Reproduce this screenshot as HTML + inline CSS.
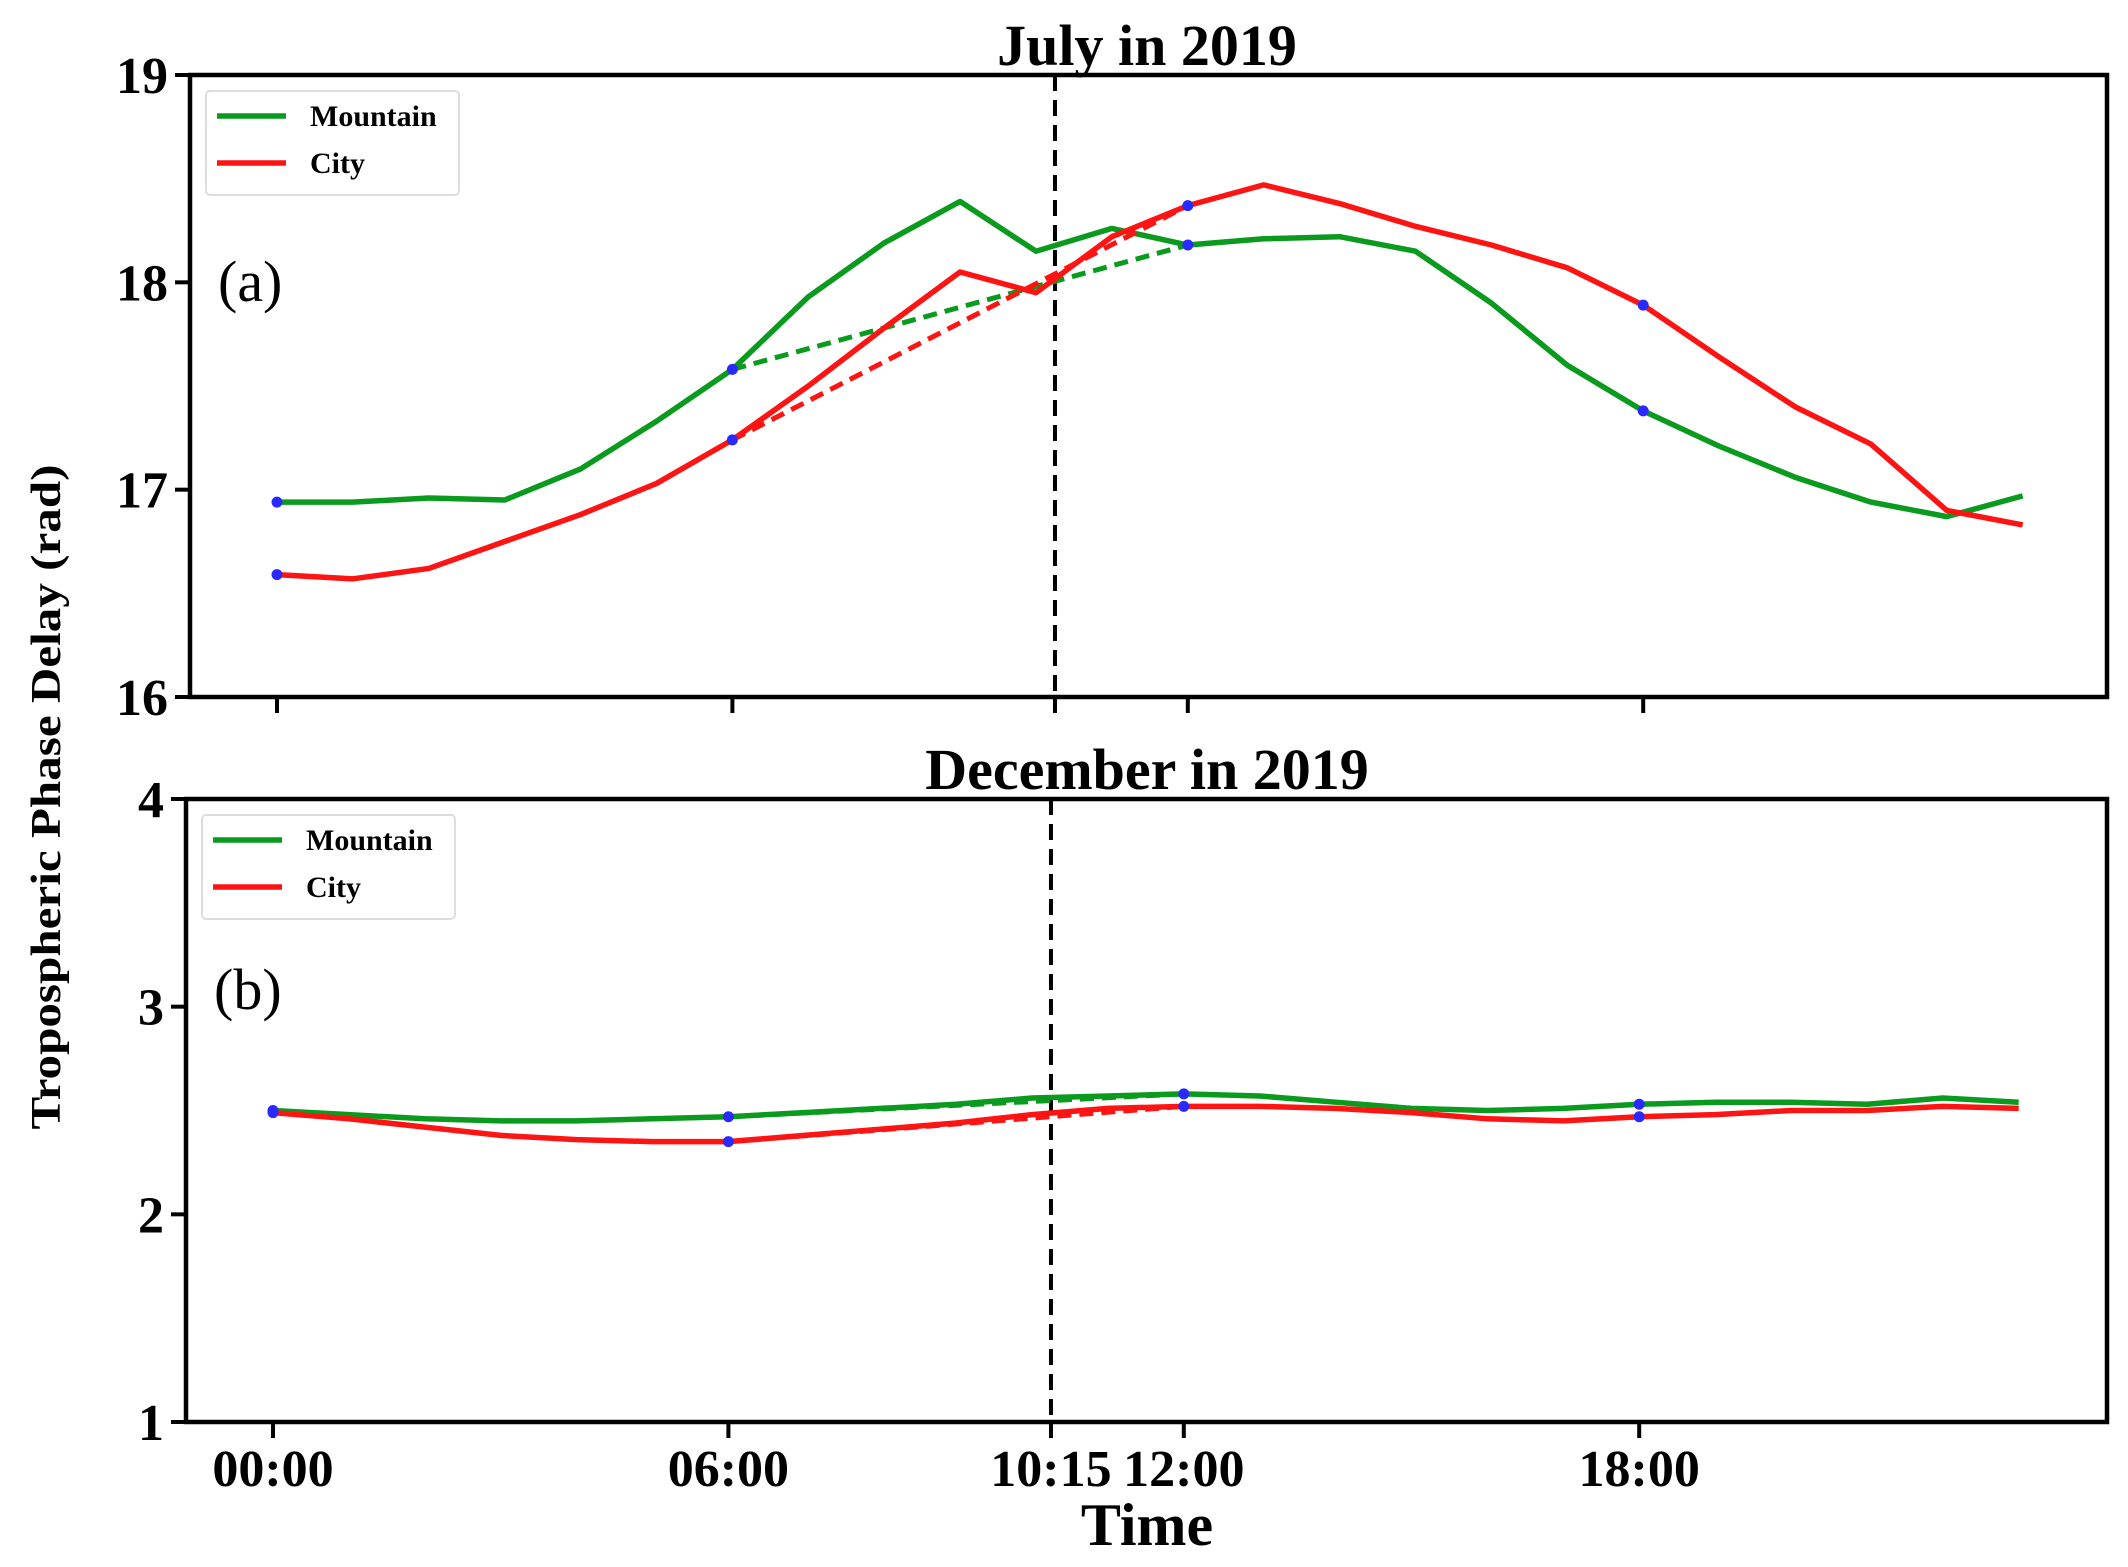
<!DOCTYPE html>
<html><head><meta charset="utf-8"><style>
html,body{margin:0;padding:0;background:#fff;}
svg{display:block;font-family:"Liberation Serif",serif;}
</style></head><body>
<svg id="chart" width="2128" height="1567" viewBox="0 0 2128 1567" xmlns="http://www.w3.org/2000/svg">
<text x="0" y="0" transform="translate(60,797) rotate(-90)" text-anchor="middle" font-weight="bold" font-size="42" textLength="665" lengthAdjust="spacingAndGlyphs">Tropospheric Phase Delay (rad)</text>
<text x="1147" y="1545" text-anchor="middle" font-weight="bold" font-size="60">Time</text>
</svg>
<script>
const hours = [0,1,2,3,4,5,6,7,8,9,10,11,12,13,14,15,16,17,18,19,20,21,22,23];
const julyMountain = [16.94,16.94,16.96,16.95,17.10,17.33,17.58,17.93,18.19,18.39,18.15,18.26,18.18,18.21,18.22,18.15,17.90,17.60,17.38,17.21,17.06,16.94,16.87,16.97];
const julyCity = [16.59,16.57,16.62,16.75,16.88,17.03,17.24,17.50,17.78,18.05,17.95,18.22,18.37,18.47,18.38,18.27,18.18,18.07,17.89,17.64,17.40,17.22,16.90,16.83];
const decMountain = [2.50,2.48,2.46,2.45,2.45,2.46,2.47,2.49,2.51,2.53,2.56,2.57,2.58,2.57,2.54,2.51,2.50,2.51,2.53,2.54,2.54,2.53,2.56,2.54];
const decCity = [2.49,2.46,2.42,2.38,2.36,2.35,2.35,2.38,2.41,2.44,2.48,2.51,2.52,2.52,2.51,2.49,2.46,2.45,2.47,2.48,2.50,2.50,2.52,2.51];
const sampleHours = [0,6,12,18];
const dashHours = [6,12];
const xTickHours = [0,6,10.25,12,18];
const xTickLabels = ["00:00","06:00","10:15","12:00","18:00"];
const julyTicks = [16,17,18,19];
const decTicks = [1,2,3,4];
const markerHour = 10.25;

const NS="http://www.w3.org/2000/svg";
const svg=document.getElementById('chart');
function el(tag,attrs,parent){const e=document.createElementNS(NS,tag);for(const k in attrs)e.setAttribute(k,attrs[k]);(parent||svg).appendChild(e);return e;}

function panel(cfg){
  const g=el('g',{});
  
  
  const X=h=>cfg.x0+h*cfg.hw;
  const Y=v=>cfg.bottom-(v-cfg.ymin)/(cfg.ymax-cfg.ymin)*(cfg.bottom-cfg.top);
  const t=el('text',{x:1147,y:cfg.top-10,'text-anchor':'middle','font-weight':'bold','font-size':58},g);
  t.textContent=cfg.title;
  
  
  cfg.yticks.forEach(v=>{
    const tk=el('line',{x1:cfg.left-15,x2:cfg.left,y1:Y(v),y2:Y(v),stroke:'#000','stroke-width':4},g);
    
    
    const lb=el('text',{x:cfg.left-22,y:Y(v)+18,'text-anchor':'end','font-weight':'bold','font-size':52},g);
    lb.textContent=v;
    
    
  });
  xTickHours.forEach((h,i)=>{
    const tk=el('line',{x1:X(h),x2:X(h),y1:cfg.bottom,y2:cfg.bottom+16,stroke:'#000','stroke-width':4},g);
    
    
    if(cfg.labels){
      const lb=el('text',{x:X(h),y:1486,'text-anchor':'middle','font-weight':'bold','font-size':52},g);
      lb.textContent=xTickLabels[i];
      
      
    }
  });
  const vl=el('line',{x1:X(markerHour),x2:X(markerHour),y1:cfg.top,y2:cfg.bottom,stroke:'#000','stroke-width':4,'stroke-dasharray':'16,9'},g);
  
  
  const series=[[cfg.mountain,'#0a9a1e','mountain'],[cfg.city,'#ff1414','city']];
  series.forEach(([d,c,n])=>{
    const pts=hours.map((h,i)=>X(h)+','+Y(d[i])).join(' ');
    const p=el('polyline',{points:pts,fill:'none',stroke:c,'stroke-width':5.5,'stroke-linejoin':'round'},g);
    
    
    const dl=el('line',{x1:X(dashHours[0]),y1:Y(d[dashHours[0]]),x2:X(dashHours[1]),y2:Y(d[dashHours[1]]),stroke:c,'stroke-width':5,'stroke-dasharray':'14,8'},g);
    
    
  });
  series.forEach(([d,c,n])=>{
    sampleHours.forEach(h=>{
      const m=el('circle',{cx:X(h),cy:Y(d[h]),r:5.5,fill:'#2a2aff'},g);
      
      
    });
  });
  const fr=el('rect',{x:cfg.left,y:cfg.top,width:cfg.right-cfg.left,height:cfg.bottom-cfg.top,fill:'none',stroke:'#000','stroke-width':4.5},g);
  
  
  const lg=el('g',{},g);
  
  
  el('rect',{x:cfg.left+16,y:cfg.top+16,width:253,height:104,rx:4,fill:'#fff',stroke:'#ddd','stroke-width':2},lg);
  [['Mountain','#0a9a1e',41],['City','#ff1414',88]].forEach(([txt,c,dy])=>{
    const e=el('g',{},lg);
    
    
    el('line',{x1:cfg.left+27,x2:cfg.left+96,y1:cfg.top+dy,y2:cfg.top+dy,stroke:c,'stroke-width':5.5},e);
    const tt=el('text',{x:cfg.left+120,y:cfg.top+dy+10,'font-weight':'bold','font-size':30},e);
    tt.textContent=txt;
  });
  const pl=el('text',{x:cfg.left+28,y:cfg.labelY,'font-size':58},g);
  pl.textContent=cfg.panelLabel;
  
  
}

panel({name:'july-panel',title:'July in 2019',left:190,right:2107,top:75,bottom:697,x0:277,hw:75.9,ymin:16,ymax:19,yticks:julyTicks,mountain:julyMountain,city:julyCity,labels:false,panelLabel:'(a)',labelY:301});
panel({name:'december-panel',title:'December in 2019',left:186,right:2107,top:799,bottom:1422,x0:273,hw:75.9,ymin:1,ymax:4,yticks:decTicks,mountain:decMountain,city:decCity,labels:true,panelLabel:'(b)',labelY:1009});
</script>
</body></html>
